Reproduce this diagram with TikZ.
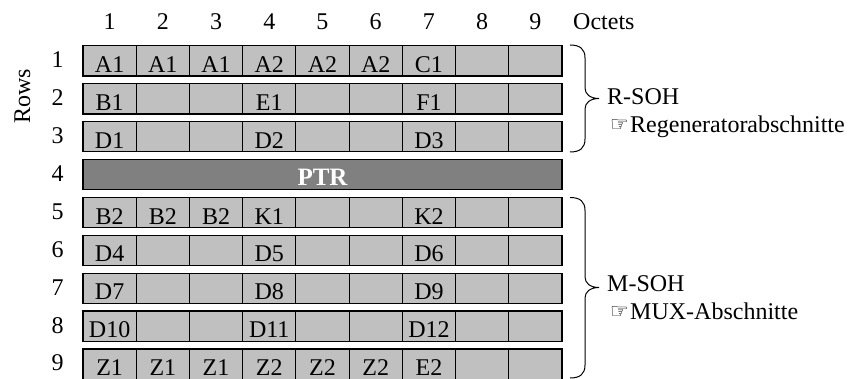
\documentclass[tikz,border=0pt]{standalone}
\usepackage{fontspec}
\setmainfont{Liberation Serif}
\newfontfamily\symfont{DejaVu Sans}
\definecolor{cellgray}{HTML}{C0C0C0}
\definecolor{ptrgray}{HTML}{808080}
\tikzset{
  cell/.style={draw, line width=1.2pt, fill=cellgray, minimum width=53.22pt,
    minimum height=30.4pt, inner sep=0pt, text height=23.2pt, text depth=0pt,
    font=\fontsize{24}{28}\selectfont},
  ptrbox/.style={draw, line width=1.2pt, fill=ptrgray, minimum width=479pt,
    minimum height=30.4pt, inner sep=0pt, text height=22pt, text depth=0pt,
    text=white, font=\fontsize{25}{28}\selectfont\bfseries},
  lbl/.style={inner sep=0pt, anchor=base, font=\fontsize{24}{28}\selectfont},
  lblw/.style={inner sep=0pt, anchor=base west, font=\fontsize{24}{28}\selectfont},
  bracepath/.style={line width=1pt},
}
\newcommand{\hand}{\makebox[20pt][l]{\symfont\fontsize{21}{21}\selectfont\raisebox{1pt}{☞}}}
\begin{document}
\begin{tikzpicture}[x=1pt,y=-1pt]
\useasboundingbox (0,0) rectangle (848,379);
% column numbers
\foreach \c in {1,...,9}{
  \node[lbl] (col\c) at ({83+(\c-0.5)*53.22},30) {\c};
}
\node[lblw] (octets) at (573,30) {Octets};
\node[rotate=90, inner sep=0pt, font=\fontsize{24}{28}\selectfont] (rows) at (22.5,96) {Rows};
% row numbers
\foreach \r in {1,...,9}{
  \node[lbl] (rn\r) at (57.5,{45.7+(\r-1)*37.9+15.2+6.85}) {\r};
}
% cells
\foreach \r/\labels in {
  1/{A1,A1,A1,A2,A2,A2,C1,,},
  2/{B1,,,E1,,,F1,,},
  3/{D1,,,D2,,,D3,,},
  5/{B2,B2,B2,K1,,,K2,,},
  6/{D4,,,D5,,,D6,,},
  7/{D7,,,D8,,,D9,,},
  8/{D10,,,D11,,,D12,,},
  9/{Z1,Z1,Z1,Z2,Z2,Z2,E2,,}}{
  \foreach \t [count=\c] in \labels {
    \node[cell] (c\r-\c) at ({83+(\c-0.5)*53.22},{45.7+(\r-1)*37.9+15.2}) {\t};
  }
}
\node[ptrbox] (ptr) at (322.5,{45.7+3*37.9+15.2}) {PTR};
% braces
\draw[bracepath] (570,45) .. controls (580,45) and (585,49) .. (585,58)
  -- (585,88) .. controls (585,94) and (590,98.5) .. (599,98.5)
  .. controls (590,98.5) and (585,103) .. (585,109)
  -- (585,139) .. controls (585,148) and (580,152) .. (570,152);
\draw[bracepath] (570,197.5) .. controls (580,197.5) and (585,201.5) .. (585,210.5)
  -- (585,277) .. controls (585,283) and (590,287.5) .. (599,287.5)
  .. controls (590,287.5) and (585,292) .. (585,298)
  -- (585,365) .. controls (585,374) and (580,378) .. (570,378);
% labels
\node[lblw] (rsoh) at (607,105) {R-SOH};
\node[lblw] (regen) at (610,132.5) {\hand Regeneratorabschnitte};
\node[lblw] (msoh) at (607,291.5) {M-SOH};
\node[lblw] (mux) at (610,319) {\hand MUX-Abschnitte};
\end{tikzpicture}
\end{document}
